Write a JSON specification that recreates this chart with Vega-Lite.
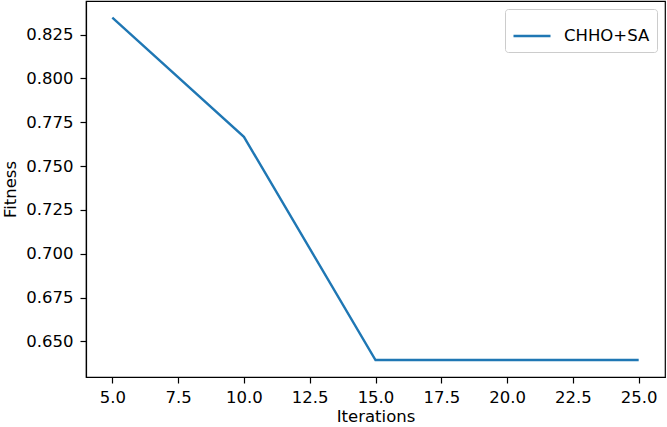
{
  "$schema": "https://vega.github.io/schema/vega-lite/v6.json",
  "width": 579,
  "height": 376,
  "autosize": {"type": "none"},
  "padding": {"left": 86, "top": 1, "right": 2, "bottom": 50},
  "background": "white",
  "config": {
    "font": "DejaVu Sans",
    "view": {"stroke": "black", "strokeWidth": 1.2},
    "axis": {
      "grid": false,
      "domainColor": "black",
      "domainWidth": 1.2,
      "tickColor": "black",
      "tickSize": 6,
      "tickWidth": 1.2,
      "labelFont": "DejaVu Sans",
      "labelFontSize": 16.5,
      "labelColor": "black",
      "labelPadding": 6,
      "titleFont": "DejaVu Sans",
      "titleFontSize": 16.5,
      "titleFontWeight": "normal",
      "titleColor": "black"
    }
  },
  "data": {
    "values": [
      {"iter": 5, "fitness": 0.8347, "series": "CHHO+SA"},
      {"iter": 10, "fitness": 0.7667, "series": "CHHO+SA"},
      {"iter": 15, "fitness": 0.6394, "series": "CHHO+SA"},
      {"iter": 20, "fitness": 0.6394, "series": "CHHO+SA"},
      {"iter": 25, "fitness": 0.6394, "series": "CHHO+SA"}
    ]
  },
  "mark": {"type": "line", "strokeWidth": 2.4},
  "encoding": {
    "x": {
      "field": "iter",
      "type": "quantitative",
      "scale": {"domain": [4, 26], "nice": false, "zero": false},
      "axis": {"values": [5, 7.5, 10, 12.5, 15, 17.5, 20, 22.5, 25], "format": ".1f", "title": "Iterations", "titlePadding": 3, "labelFlush": false}
    },
    "y": {
      "field": "fitness",
      "type": "quantitative",
      "scale": {"domain": [0.6297, 0.8442], "nice": false, "zero": false},
      "axis": {"values": [0.65, 0.675, 0.7, 0.725, 0.75, 0.775, 0.8, 0.825], "format": ".3f", "title": "Fitness", "titlePadding": 7, "labelFlush": false, "labelPadding": 7}
    },
    "color": {
      "field": "series",
      "type": "nominal",
      "scale": {"range": ["#1f77b4"]},
      "legend": {
        "title": null,
        "orient": "top-right",
        "offset": 8,
        "symbolType": "stroke",
        "symbolSize": 1369,
        "symbolStrokeWidth": 2.4,
        "labelFontSize": 16.5,
        "labelFont": "DejaVu Sans",
        "labelColor": "black",
        "labelOffset": 12,
        "padding": 7,
        "strokeColor": "#cccccc",
        "fillColor": "white",
        "cornerRadius": 3
      }
    }
  }
}
